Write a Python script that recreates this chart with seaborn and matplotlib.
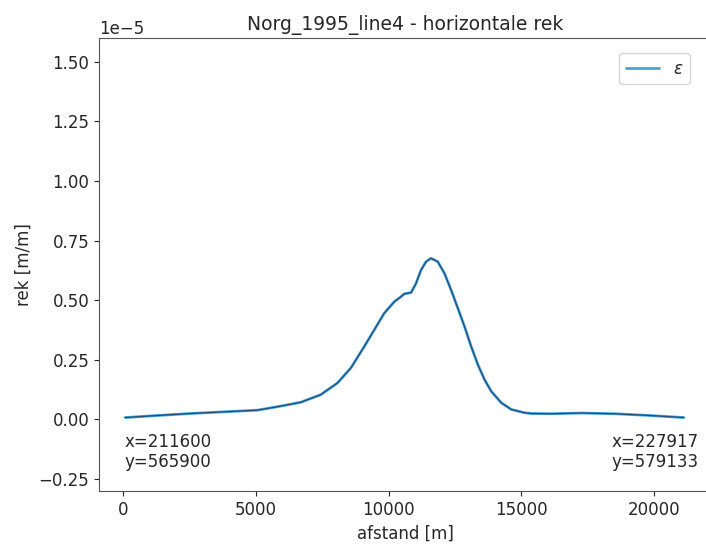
import matplotlib
matplotlib.use("Agg")
import matplotlib.pyplot as plt
from matplotlib.ticker import MultipleLocator
import pandas as pd
import seaborn as sns

afstand = [76, 1200, 2530, 3800, 5065, 5933, 6690, 7445, 8075, 8580, 9085,
           9463, 9840, 10218, 10469, 10596, 10847, 11036, 11225, 11414, 11602,
           11854, 12106, 12358, 12610, 12862, 13114, 13366, 13618, 13870,
           14248, 14626, 15130, 15381, 16137, 17270, 18520, 19800, 21127]
rek_e5 = [0.008, 0.016, 0.025, 0.032, 0.039, 0.056, 0.072, 0.104, 0.153,
          0.216, 0.306, 0.376, 0.446, 0.494, 0.515, 0.527, 0.532, 0.571,
          0.627, 0.662, 0.676, 0.662, 0.613, 0.543, 0.467, 0.39, 0.306, 0.23,
          0.167, 0.118, 0.07, 0.042, 0.028, 0.025, 0.024, 0.027, 0.024, 0.017,
          0.008]
start_label = "x=211600\ny=565900"
end_label = "x=227917\ny=579133"

df = pd.DataFrame({"afstand": afstand, "rek": [v * 1e-5 for v in rek_e5]})

sns.set_style("ticks")
plt.rcParams.update({"font.family": "DejaVu Sans", "font.size": 12,
                     "axes.edgecolor": "#555555"})

fig = plt.figure(figsize=(7.06, 5.49), dpi=100)
ax = fig.add_axes([99 / 706, 58 / 549, 612 / 706, 453 / 549])

sns.lineplot(data=df, x="afstand", y="rek", ax=ax, color="#4aa3dc",
             linewidth=2.0, label=r"$\varepsilon$")
sns.lineplot(data=df, x="afstand", y="rek", ax=ax, color="#1f4e79",
             linewidth=0.9, legend=False)

ax.set_xlim(-910, 22150)
ax.set_ylim(-0.3e-5, 1.6e-5)
ax.yaxis.set_major_locator(MultipleLocator(0.25e-5))
ax.xaxis.set_major_locator(MultipleLocator(5000))
ax.set_title("Norg_1995_line4 - horizontale rek", fontsize=13.5)
ax.set_xlabel("afstand [m]")
ax.set_ylabel("rek [m/m]")
ax.tick_params(labelsize=12)

ax.text(0.041, 0.045, start_label, transform=ax.transAxes, ha="left",
        va="bottom", fontsize=12, linespacing=1.1)
ax.text(0.979, 0.045, end_label, transform=ax.transAxes, ha="right",
        va="bottom", fontsize=12, linespacing=1.1)

ax.legend(loc="upper right", bbox_to_anchor=(0.979, 0.985), fontsize=12,
          frameon=True)

fig.savefig("out.png", dpi=100)
